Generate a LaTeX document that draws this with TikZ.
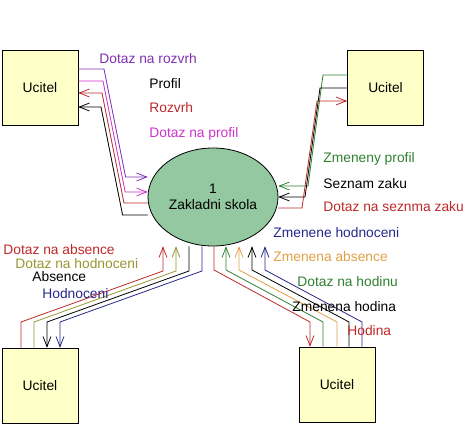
\documentclass[tikz,border=0pt]{standalone}
\usepackage{fontspec}
\setmainfont{Liberation Sans}
\usetikzlibrary{shapes.geometric,arrows.meta}
\definecolor{vio}{RGB}{128,48,176}
\definecolor{mag}{RGB}{204,51,204}
\definecolor{rd}{RGB}{190,40,40}
\definecolor{grn}{RGB}{48,128,48}
\definecolor{olv}{RGB}{150,150,50}
\definecolor{org}{RGB}{225,160,70}
\definecolor{nav}{RGB}{40,40,140}
\definecolor{boxfill}{RGB}{255,255,200}
\definecolor{ellfill}{RGB}{147,200,160}

\begin{document}
\begin{tikzpicture}[x=1pt,y=-1pt,
		every node/.style={font=\fontsize{13.8}{16.5}\selectfont},
		box/.style={draw,fill=boxfill,minimum width=76pt,minimum height=75pt,inner sep=0pt},
		lbl/.style={anchor=base west,inner sep=0pt},
		>={Straight Barb[length=10pt,width=8pt,sep=-3pt]Latex[length=3pt,width=2.5pt]},
		line width=0.8pt]
		\useasboundingbox (0,0) rectangle (465,439);
		% teachers and the school
		\node[box] (U1) at (40,87.5) {Ucitel};
		\node[box] (U2) at (385.5,87.5) {Ucitel};
		\node[box] (U3) at (40,385.5) {Ucitel};
		\node[box] (U4) at (337,384.5) {Ucitel};
		\node[ellipse,draw,fill=ellfill,minimum width=130pt,minimum height=98pt,inner sep=0pt,align=center] (S) at (213,197) {1\\Zakladni skola};
		% top left
		\draw[->,vio] (U1.east |- 0,69) -- (104,69) -- (125.6,177) -- (S.west |- 0,177);
		\draw[->,mag] (U1.east |- 0,81) -- (103,81) -- (125.2,192) -- (S.west |- 0,192);
		\draw[->,rd]  (S.west |- 0,203) -- (124,203) -- (102,93) -- (U1.east |- 0,93);
		\draw[->]     (S.west |- 0,215) -- (122.6,215) -- (101,107) -- (U1.east |- 0,107);
		\node[lbl,vio] at (99,63) {Dotaz na rozvrh};
		\node[lbl] at (149,88) {Profil};
		\node[lbl,rd] at (149,112) {Rozvrh};
		\node[lbl,mag] at (149,137) {Dotaz na profil};
		% top right
		\draw[->,grn] (U2.west |- 0,75) -- (323,75) -- (308,186) -- (S.east |- 0,186);
		\draw[->]     (U2.west |- 0,88) -- (320,88) -- (305,197) -- (S.east |- 0,197);
		\draw[->,rd]  (S.east |- 0,208) -- (302,208) -- (317,101) -- (U2.west |- 0,101);
		\node[lbl,grn] at (323,162) {Zmeneny profil};
		\node[lbl] at (323,188) {Seznam zaku};
		\node[lbl,rd] at (323,211) {Dotaz na seznma zaku};
		% bottom left
		\draw[<-,rd]  (S.south -| 163,0) -- (163,271) -- (21,322) -- (U3.north -| 21,0);
		\draw[<-,olv] (S.south -| 176,0) -- (176,271) -- (34,322) -- (U3.north -| 34,0);
		\draw[->]     (S.south -| 189,0) -- (189,271) -- (47,322) -- (U3.north -| 47,0);
		\draw[->,nav] (S.south -| 202,0) -- (202,271) -- (60,322) -- (U3.north -| 60,0);
		\node[lbl,rd] at (3,254) {Dotaz na absence};
		\node[lbl,olv] at (15,268) {Dotaz na hodnoceni};
		\node[lbl] at (32,281) {Absence};
		\node[lbl,nav] at (42,298) {Hodnoceni};
		% bottom right
		\draw[->,rd]  (S.south -| 214,0) -- (214,270) -- (310,322) -- (U4.north -| 310,0);
		\draw[<-,grn] (S.south -| 226,0) -- (226,270) -- (323,322) -- (U4.north -| 323,0);
		\draw[<-,org] (S.south -| 239,0) -- (239,270) -- (337,322) -- (U4.north -| 337,0);
		\draw[<-]     (S.south -| 252,0) -- (252,270) -- (349,322) -- (U4.north -| 349,0);
		\draw[<-,nav] (S.south -| 265,0) -- (265,270) -- (362,322) -- (U4.north -| 362,0);
		\node[lbl,nav] at (273,237) {Zmenene hodnoceni};
		\node[lbl,org] at (273,261) {Zmenena absence};
		\node[lbl,grn] at (297,286) {Dotaz na hodinu};
		\node[lbl] at (292,311) {Zmenena hodina};
		\node[lbl,rd] at (347,335) {Hodina};
	\end{tikzpicture}
\end{document}
